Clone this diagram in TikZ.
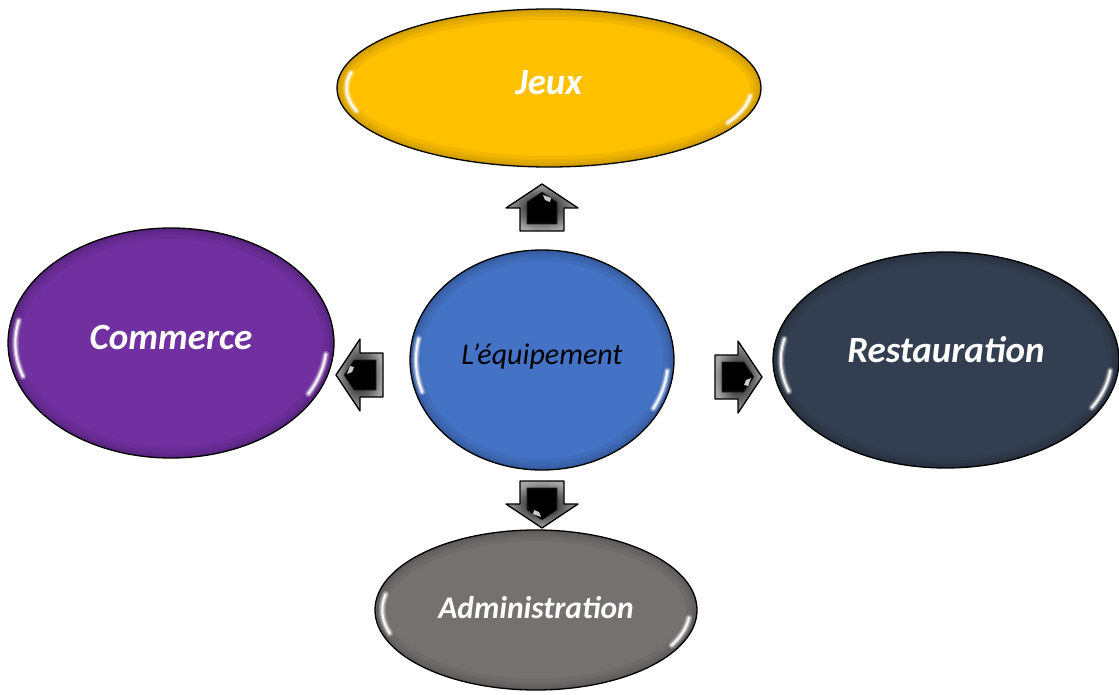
\documentclass[tikz,border=0pt]{standalone}
\usepackage{fontspec}
\setmainfont{Carlito}
\usetikzlibrary{shapes.geometric,calc}

\definecolor{jeuxgold}{HTML}{FFC000}
\definecolor{commpurple}{HTML}{7030A0}
\definecolor{equipblue}{HTML}{4472C4}
\definecolor{restslate}{HTML}{333F50}
\definecolor{admingray}{HTML}{767171}

\tikzset{
  blob/.style={ellipse, draw=black, line width=1.3pt, inner sep=0pt,
    path picture={
      % soft inner shadow along the rim
      \foreach \w in {22,14,8,4}
        \path let \p1=(path picture bounding box.north east),
                  \p2=(path picture bounding box.center) in
          [draw=black, draw opacity=0.05, line width=\w pt]
          (\x2,\y2) ellipse [x radius=\x1-\x2, y radius=\y1-\y2];
      % glossy streaks, left and right
      \foreach \w/\o in {7/0.25, 4/0.45, 2/0.85}
        \path let \p1=(path picture bounding box.north east),
                  \p2=(path picture bounding box.center) in
          [draw=white, draw opacity=\o, line width=\w pt, line cap=round]
          (\x2,\y2) ++(168:{0.955*(\x1-\x2)} and {0.94*(\y1-\y2)})
          arc[start angle=168, end angle=198, x radius={0.955*(\x1-\x2)}, y radius={0.94*(\y1-\y2)}]
          (\x2,\y2) ++(-28:{0.955*(\x1-\x2)} and {0.94*(\y1-\y2)})
          arc[start angle=-28, end angle=-6, x radius={0.955*(\x1-\x2)}, y radius={0.94*(\y1-\y2)}];
    }},
  lbl/.style={font=\fontsize{37}{41}\selectfont\bfseries\itshape, text=white},
  blockarrow/.style={draw=black, line width=1.3pt, line join=round,
    inner color=black, outer color=gray!70},
  arrowcore/.style={fill=black, draw=black!85, line width=0.6pt, line join=round},
  arrowglare/.style={fill=white, fill opacity=0.8},
}

\begin{document}
\begin{tikzpicture}[x=1pt, y=-1pt]
  \useasboundingbox (0,0) rectangle (1119,695);

  % ellipses (centres in pixel coordinates)
  \node[blob, fill=jeuxgold, minimum width=424pt, minimum height=158pt, lbl] (jeux) at (549,88)
    {\raisebox{11pt}{Jeux}};
  \node[blob, fill=commpurple, minimum width=326pt, minimum height=230pt, lbl] (commerce) at (171,343)
    {\raisebox{11pt}{Commerce}};
  \node[blob, fill=equipblue, minimum width=264pt, minimum height=220pt,
        font=\fontsize{30}{34}\selectfont\itshape] (equip) at (542,360)
    {\raisebox{11pt}{L’équipement}};
  \node[blob, fill=restslate, minimum width=346pt, minimum height=216pt, lbl] (resto) at (946,360)
    {\raisebox{20pt}{Restauration}};
  \node[blob, fill=admingray, minimum width=322pt, minimum height=160pt, lbl,
        font=\fontsize{31.5}{35}\selectfont\bfseries\itshape] (admin) at (536,610)
    {\raisebox{6pt}{Administration}};

  % block arrows: angle / head base x / head base y
  \foreach \ang/\px/\py in {90/542/208, 180/360/375, 0/738/377, 270/542/504}
  {
    \draw[blockarrow, shift={(\px,\py)}, rotate=\ang]
      (-23,-22) -- (0,-22) -- (0,-36) -- (24,0) -- (0,36) -- (0,22) -- (-23,22) -- cycle;
    \draw[arrowcore, shift={(\px,\py)}, rotate=\ang]
      (-16,-15) -- (6,-15) -- (16,0) -- (6,15) -- (-16,15) -- cycle;
    \fill[arrowglare, shift={(\px,\py)}, rotate=\ang]
      (8,3) -- (13,1) -- (10,9) -- (6,8) -- cycle;
  }
\end{tikzpicture}
\end{document}
